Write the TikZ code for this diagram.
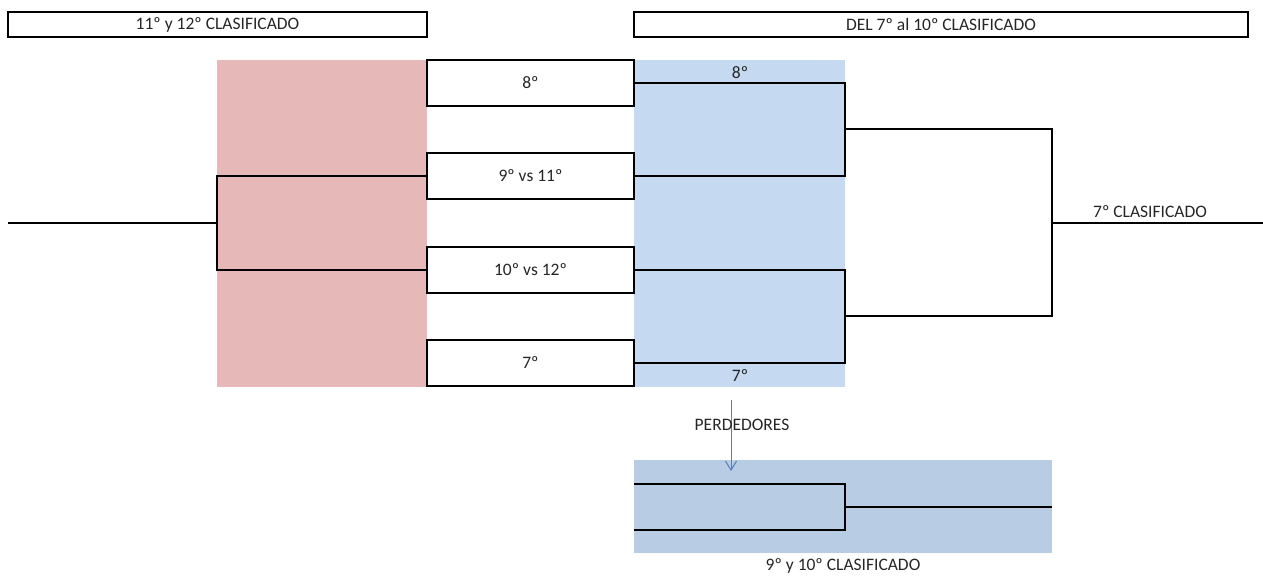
\documentclass[tikz,border=0pt]{standalone}
\usepackage{fontspec}
\setmainfont{Carlito}
\usetikzlibrary{arrows.meta}
\definecolor{pinkbg}{HTML}{E6B8B7}
\definecolor{bluebg}{HTML}{C5D9F1}
\definecolor{bluebgB}{HTML}{B8CCE4}
\definecolor{arrowblue}{HTML}{4F81BD}
\definecolor{txt}{HTML}{262626}
\tikzset{
  hdr/.style={draw=black, line width=2.2pt, fill=white, inner sep=0pt, text=txt, font=\fontsize{17.5}{20}\selectfont},
  matchbox/.style={draw=black, line width=2.2pt, fill=white, inner sep=0pt, minimum width=207pt, minimum height=46pt, text=txt, font=\fontsize{17.5}{20}\selectfont},
  lbl/.style={text=txt, inner sep=0pt, font=\fontsize{17.5}{20}\selectfont},
  wire/.style={draw=black, line width=2.2pt},
  arr/.style={draw=arrowblue, line width=1pt, -{Straight Barb[length=9pt,width=11pt]}}
}
\begin{document}
\begin{tikzpicture}[x=1pt,y=-1pt]
\useasboundingbox (0,0) rectangle (1263,576);
% backgrounds
\fill[pinkbg] (217,60) rectangle (427,387);
\fill[bluebg] (634,60) rectangle (845,387);
\fill[bluebgB] (634,460) rectangle (1052,553);
% headers
\node[hdr, minimum width=419pt, minimum height=25pt] (hdrL) at (217.5,24.5) {11º y 12º CLASIFICADO};
\node[hdr, minimum width=614pt, minimum height=25pt] (hdrR) at (941,24.5) {DEL 7º al 10º CLASIFICADO};
% match boxes
\node[matchbox] (b1) at (530.5,83) {8º};
\node[matchbox] (b2) at (530.5,176) {9º vs 11º};
\node[matchbox] (b3) at (530.5,270) {10º vs 12º};
\node[matchbox] (b4) at (530.5,363) {7º};
% coordinates
\coordinate (lj) at (217,223);
\coordinate (lend) at (8,223);
\coordinate (r1) at (845,129);
\coordinate (r2) at (845,316);
\coordinate (fin) at (1052,223);
\coordinate (out) at (1263,223);
\coordinate (p1) at (634,484);
\coordinate (p2) at (634,530);
\coordinate (pj) at (845,507);
\coordinate (pend) at (1052,507);
\coordinate (a1) at (731,400);
\coordinate (a2) at (731,471);
% left bracket
\draw[wire] (b2.west) -| (lj) |- (b3.west);
\draw[wire] (lj) -- (lend);
% right bracket
\draw[wire] (b1.east) -| (r1) |- (b2.east);
\draw[wire] (b3.east) -| (r2) |- (b4.east);
\draw[wire] (r1) -| (fin) |- (r2);
\draw[wire] (fin) -- (out);
% losers bracket
\draw[wire] (p1) -| (pj) |- (p2);
\draw[wire] (pj) -- (pend);
% arrow
\draw[arr] (a1) -- (a2);
% labels
\node[lbl] (l8) at (740,73) {8º};
\node[lbl] (l7) at (740,376) {7º};
\node[lbl] (lwin) at (1150,212) {7º CLASIFICADO};
\node[lbl] (lper) at (742,425) {PERDEDORES};
\node[lbl] (lbot) at (843,566) {9º y 10º CLASIFICADO};
\end{tikzpicture}
\end{document}
